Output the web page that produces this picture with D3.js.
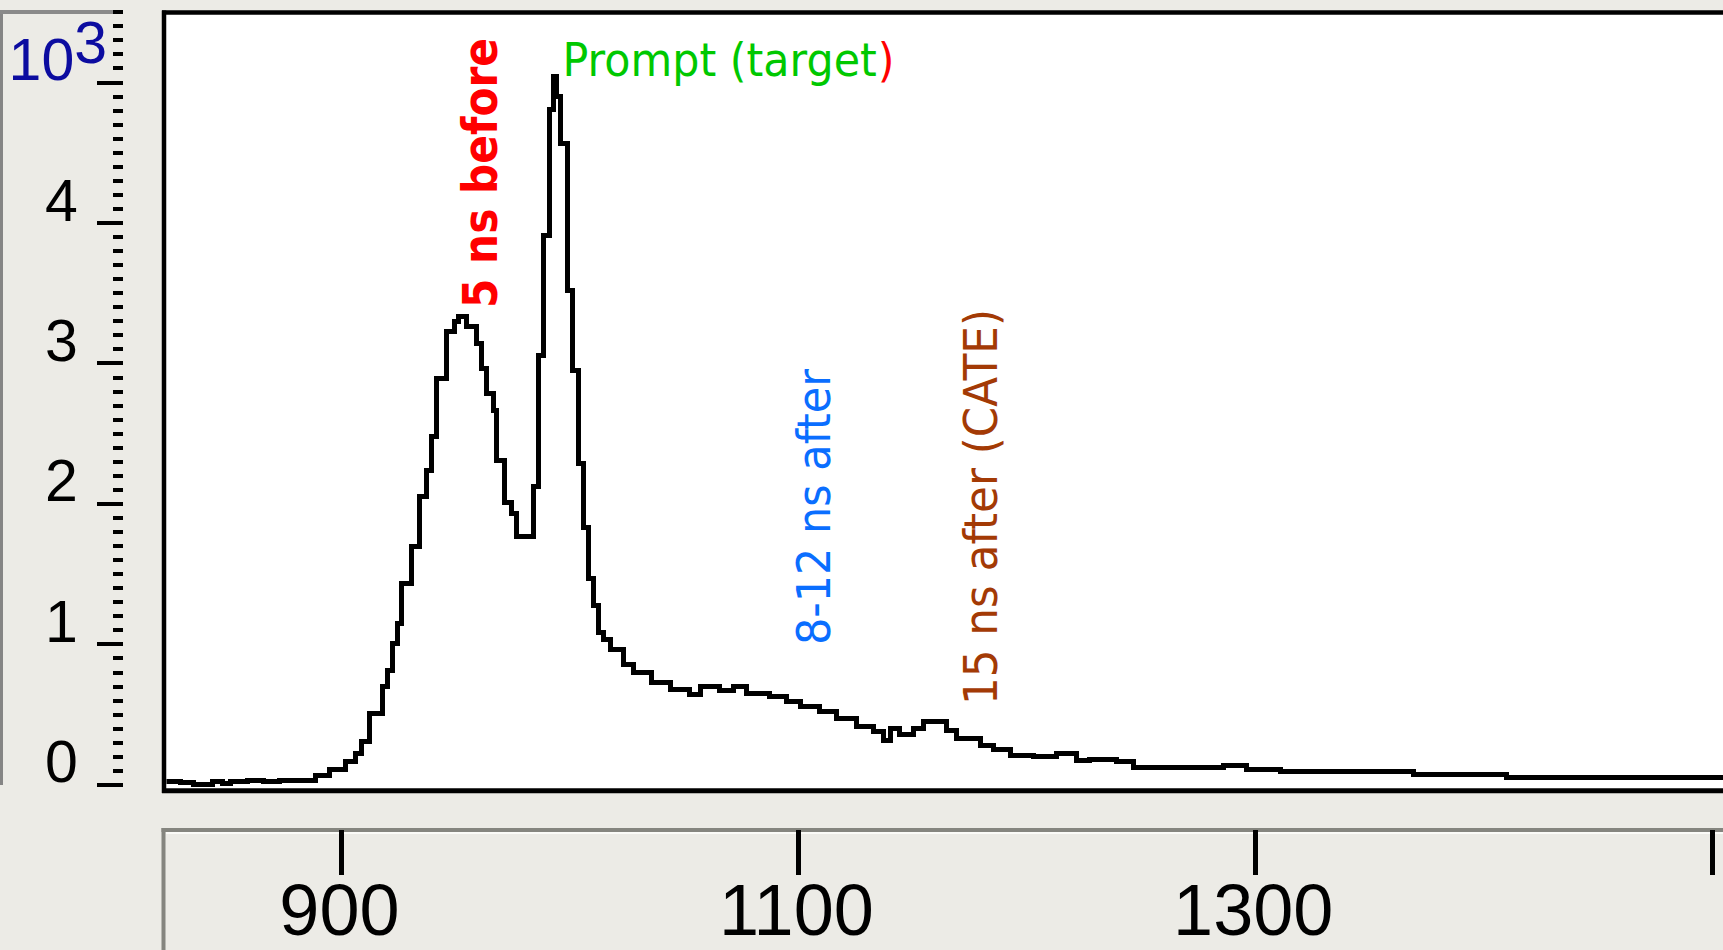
<!DOCTYPE html>
<html><head><meta charset="utf-8">
<script src="https://cdn.jsdelivr.net/npm/d3@7/dist/d3.min.js"></script>
<style>html,body{margin:0;padding:0;background:#ECEBE6;overflow:hidden}</style>
</head><body><svg id="c" width="1723" height="950"></svg>
<script>
// ---------- data ----------
const binStart = [823.0, 830.0, 835.3, 843.6, 848.0, 851.5, 859.3, 866.0, 873.3, 888.7,
  895.2, 901.8, 906.2, 909.2, 912.7, 918.0, 920.2, 922.4, 924.6, 926.7,
  931.0, 934.6, 937.6, 939.7, 941.9, 946.3, 949.9, 951.4, 955.1, 959.4,
  961.6, 963.8, 966.7, 968.2, 971.8, 974.8, 977.0, 984.2, 986.4, 988.6,
  991.1, 993.1, 994.2, 996.3, 999.0, 1001.2, 1003.9, 1006.1, 1008.3, 1010.5,
  1012.7, 1014.9, 1017.8, 1023.6, 1028.0, 1036.0, 1044.1, 1052.8, 1057.2, 1065.9,
  1071.8, 1077.6, 1087.8, 1095.1, 1101.0, 1109.7, 1117.0, 1125.8, 1133.0, 1137.4,
  1140.4, 1144.7, 1150.6, 1154.9, 1165.2, 1169.5, 1179.8, 1185.6, 1192.9, 1203.1,
  1213.3, 1222.1, 1227.9, 1239.6, 1246.9, 1286.3, 1296.5, 1311.1, 1369.4, 1410.4];
const counts = [18, 10, 0, 20, 8, 18, 26, 20, 28, 62,
  105, 162, 221, 304, 506, 695, 814, 1004, 1147, 1431,
  1692, 2048, 2238, 2475, 2891, 3223, 3294, 3329, 3258, 3140,
  2962, 2784, 2665, 2309, 2010, 1930, 1765, 2119, 3050, 3907,
  4808, 5040, 4900, 4561, 3515, 2948, 2281, 1830, 1466, 1277,
  1080, 1028, 960, 850, 795, 722, 675, 640, 695, 670,
  700, 648, 624, 589, 553, 518, 471, 411, 375, 316,
  399, 352, 399, 446, 387, 328, 280, 250, 209, 197,
  218, 170, 180, 162, 122, 131, 103, 89, 70, 50];
const binEnd = 1505;

const xTickValues = [900, 1100, 1300, 1500];
const xTickLabels = ["900", "1100", "1300", ""];
const yTickValues = [0, 1000, 2000, 3000, 4000, 5000];
const yTickLabels = ["0", "1", "2", "3", "4", ""];
const yMinorStep = 100;
const yMultiplierBase = "10";
const yMultiplierExp = "3";

const promptParts = ["Prompt (target", ")"];
const promptAt = [997.0, 5043];
const annoLabels = ["5 ns before", "8-12 ns after", "15 ns after (CATE)"];
const annoAt = [[968.5, 3391], [1114.1, 992], [1187.1, 565]];

// ---------- drawing ----------
const svg = d3.select("#c");
const W = 1723, H = 950;
const x = d3.scaleLinear().domain([823, 1505]).range([165, 1723]);
const y = d3.scaleLinear().domain([0, 5500]).range([784.4, 11.8]);

svg.append("rect").attr("width", W).attr("height", H).attr("fill", "#ECEBE6");

// left panel gray frame
svg.append("rect").attr("x", 0).attr("y", 10).attr("width", 3).attr("height", 775).attr("fill", "#858585");
svg.append("rect").attr("x", 0).attr("y", 10).attr("width", 113).attr("height", 4).attr("fill", "#8a8a8a");

// plot area
svg.append("rect").attr("x", 164).attr("y", 12.5).attr("width", W - 164 + 10).attr("height", 791 - 12.5).attr("fill", "#fff");

svg.append("defs").append("clipPath").attr("id", "clip")
  .append("rect").attr("x", 166.5).attr("y", 14.5).attr("width", W - 166.5).attr("height", 789 - 14.5);

const pts = binStart.map((b, i) => [b, counts[i]]);
pts.push([binEnd, counts[counts.length - 1]]);
const line = d3.line().x(d => x(d[0])).y(d => y(d[1])).curve(d3.curveStepAfter);
svg.append("path").attr("d", line(pts)).attr("clip-path", "url(#clip)")
  .attr("fill", "none").attr("stroke", "#000").attr("stroke-width", 5)
  .attr("stroke-linejoin", "miter").attr("shape-rendering", "crispEdges");

// plot borders
svg.append("line").attr("x1", 162).attr("x2", W).attr("y1", 12.5).attr("y2", 12.5).attr("stroke", "#000").attr("stroke-width", 4.5);
svg.append("line").attr("x1", 164).attr("x2", 164).attr("y1", 10.5).attr("y2", 793).attr("stroke", "#000").attr("stroke-width", 4.5);
svg.append("line").attr("x1", 162).attr("x2", W).attr("y1", 790.8).attr("y2", 790.8).attr("stroke", "#000").attr("stroke-width", 5);

// y axis minor ticks
const gyMinor = svg.append("g").attr("transform", "translate(123,0)")
  .call(d3.axisLeft(y).tickValues(d3.range(0, 5501, yMinorStep)).tickSize(10).tickFormat(""));
gyMinor.select(".domain").remove();
gyMinor.selectAll(".tick line").attr("stroke", "#000").attr("stroke-width", 4).attr("shape-rendering", "crispEdges");

// y axis major ticks + labels
const gy = svg.append("g").attr("transform", "translate(123,0)")
  .call(d3.axisLeft(y).tickValues(yTickValues).tickSize(26).tickFormat((d, i) => yTickLabels[i]));
gy.select(".domain").remove();
gy.selectAll(".tick line").attr("stroke", "#000").attr("stroke-width", 4).attr("shape-rendering", "crispEdges");
gy.selectAll(".tick text").attr("x", -61.5).attr("y", -2.5).attr("dy", 0)
  .attr("text-anchor", "middle").attr("fill", "#000")
  .style("font-family", "'Liberation Sans', Arial, sans-serif").style("font-size", "59px");

// multiplier 10^3
const mult = svg.append("text").attr("x", 8.6).attr("y", 80).attr("fill", "#0C0CA0")
  .style("font-family", "'Liberation Sans', Arial, sans-serif").style("font-size", "59px");
mult.append("tspan").text(yMultiplierBase);
mult.append("tspan").attr("dy", -17).text(yMultiplierExp);

// x axis panel
svg.append("line").attr("x1", 161.5).attr("x2", W).attr("y1", 830).attr("y2", 830).attr("stroke", "#85857f").attr("stroke-width", 4);
svg.append("line").attr("x1", 163.5).attr("x2", 163.5).attr("y1", 828).attr("y2", H).attr("stroke", "#85857f").attr("stroke-width", 4);
svg.append("line").attr("x1", 166).attr("x2", W).attr("y1", 833).attr("y2", 833).attr("stroke", "#fbfbf8").attr("stroke-width", 2);

const gx = svg.append("g").attr("transform", "translate(0,830)")
  .call(d3.axisBottom(x).tickValues(xTickValues).tickSize(45).tickFormat((d, i) => xTickLabels[i]));
gx.select(".domain").remove();
gx.selectAll(".tick line").attr("stroke", "#000").attr("stroke-width", 5).attr("shape-rendering", "crispEdges");
gx.selectAll(".tick text").attr("y", 104.5).attr("dy", 0).attr("dx", -2).attr("fill", "#000")
  .style("font-family", "'Liberation Sans', Arial, sans-serif").style("font-size", "72px");

// annotations: "Prompt (target)" drawn horizontally compressed (narrow Tahoma-like look)
const px = x(promptAt[0]), py = y(promptAt[1]);
const pg = svg.append("g");
const t1 = pg.append("text").attr("x", 0).attr("y", 0).attr("fill", "#00C800")
  .style("font-family", "'DejaVu Sans', Verdana, sans-serif").style("font-size", "47px")
  .text(promptParts[0]);
const w1 = t1.node().getComputedTextLength();
const t2 = pg.append("text").attr("x", w1 + 1).attr("y", 0).attr("fill", "#FF0000")
  .style("font-family", "'DejaVu Sans', Verdana, sans-serif").style("font-size", "47px")
  .text(promptParts[1]);
const wAll = w1 + 1 + t2.node().getComputedTextLength();
pg.attr("transform", `translate(${px},${py}) scale(${332 / wAll},1)`);

const annoColors = ["#FF0000", "#0A6EFF", "#A33A05"];
const annoWeights = ["bold", "normal", "normal"];
const annoSizes = [48, 46, 46];
const annoLengths = [270, 276, 396];
annoLabels.forEach((t, i) => {
  svg.append("text")
    .attr("transform", `translate(${x(annoAt[i][0])},${y(annoAt[i][1])}) rotate(-90)`)
    .attr("textLength", annoLengths[i]).attr("lengthAdjust", "spacingAndGlyphs")
    .attr("fill", annoColors[i])
    .style("font-family", "'DejaVu Sans', Verdana, sans-serif")
    .style("font-weight", annoWeights[i]).style("font-size", annoSizes[i] + "px")
    .text(t);
});
</script></body></html>
